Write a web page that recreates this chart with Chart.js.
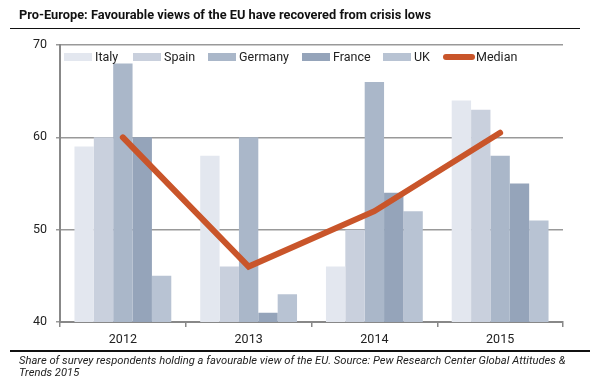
<!DOCTYPE html>
<html><head><meta charset="utf-8">
<script src="https://cdn.jsdelivr.net/npm/chart.js@4.4.0/dist/chart.umd.min.js"></script>
<style>
html,body{margin:0;padding:0;background:#fff;}
#wrap{position:relative;width:614px;height:386px;overflow:hidden;font-family:Roboto,"Liberation Sans",sans-serif;}
#title{position:absolute;left:19px;top:7px;font-size:12.8px;font-weight:bold;color:#111;white-space:nowrap;}
#rule1{position:absolute;left:10px;top:28px;width:570px;height:0;border-top:1.5px solid #111;}
#rule2{position:absolute;left:10px;top:350px;width:580px;height:0;border-top:2px solid #111;}
#cap{position:absolute;left:19px;top:355px;font-size:11.2px;font-style:italic;color:#222;line-height:12px;width:595px;white-space:nowrap;}
canvas{position:absolute;left:0;top:0;}
</style></head>
<body><div id="wrap">
<canvas id="c" width="614" height="386"></canvas>
<div id="title">Pro-Europe: Favourable views of the EU have recovered from crisis lows</div>
<div id="rule1"></div>
<div id="rule2"></div>
<div id="cap">Share of survey respondents holding a favourable view of the EU. Source: Pew Research Center Global Attitudes &amp;<br>Trends 2015</div>
</div>
<script>
const years = ["2012","2013","2014","2015"];
const italy   = [59, 58, 46, 64];
const spain   = [60, 46, 50, 63];
const germany = [68, 60, 66, 58];
const france  = [60, 41, 54, 55];
const uk      = [45, 43, 52, 51];
const median  = [60, 46, 52, 60.5];
const yTicks  = [40, 50, 60, 70];

const FONT = "Roboto, 'Liberation Sans', sans-serif";

const legendPos = [64, 133, 208, 302, 383, 443];

const customLegend = {
  id: 'customLegend',
  afterDraw(chart) {
    const ctx = chart.ctx;
    const ds = chart.data.datasets;
    const y = 57;
    ctx.save();
    ctx.font = "12.5px " + FONT;
    ctx.textBaseline = 'middle';
    ds.forEach((d, i) => {
      const x = legendPos[i];
      if (d.type === 'line') {
        ctx.strokeStyle = d.borderColor;
        ctx.lineWidth = 6;
        ctx.lineCap = 'round';
        ctx.beginPath(); ctx.moveTo(x + 3, y); ctx.lineTo(x + 29, y); ctx.stroke();
        ctx.fillStyle = '#222';
        ctx.fillText(d.label, x + 33, y + 1);
      } else {
        ctx.fillStyle = d.backgroundColor;
        ctx.fillRect(x, y - 4, 28, 8);
        ctx.fillStyle = '#222';
        ctx.fillText(d.label, x + 31, y + 1);
      }
    });
    ctx.restore();
  }
};

new Chart(document.getElementById('c'), {
  data: {
    labels: years,
    datasets: [
      {type:'bar', label:'Italy', data: italy, backgroundColor:'#E3E7EF', order:1},
      {type:'bar', label:'Spain', data: spain, backgroundColor:'#C9D0DD', order:1},
      {type:'bar', label:'Germany', data: germany, backgroundColor:'#AAB7C9', order:1},
      {type:'bar', label:'France', data: france, backgroundColor:'#95A4BA', order:1},
      {type:'bar', label:'UK', data: uk, backgroundColor:'#B8C3D3', order:1},
      {type:'line', label:'Median', data: median, borderColor:'#C9552A', borderWidth:6, pointRadius:0, borderCapStyle:'round', borderJoinStyle:'miter', tension:0, order:0}
    ]
  },
  options: {
    responsive: false,
    animation: false,
    layout: {padding: {left: 0, top: 45, right: 51, bottom: 34}},
    datasets: {bar: {categoryPercentage: 0.77, barPercentage: 1.0}},
    plugins: {legend: {display: false}, tooltip: {enabled: false}, title: {display: false}},
    scales: {
      x: {
        grid: {display: true, drawOnChartArea: false, offset: true, color: '#888', lineWidth: 1.5, tickLength: 5},
        border: {display: true, color: '#888', width: 2},
        ticks: {color: '#222', font: {family: FONT, size: 12.5}, padding: 5},
        afterFit(s) { s.height = 30; }
      },
      y: {
        min: 40, max: 70,
        afterBuildTicks(s) { s.ticks = yTicks.map(v => ({value: v})); },
        grid: {color: '#999', lineWidth: 1.5, tickLength: 4, drawTicks: true},
        border: {display: true, color: '#888', width: 2},
        ticks: {color: '#222', font: {family: FONT, size: 12.5}, padding: 9},
        afterFit(s) { s.width = 60; }
      }
    }
  },
  plugins: [customLegend]
});
</script>
</body></html>
